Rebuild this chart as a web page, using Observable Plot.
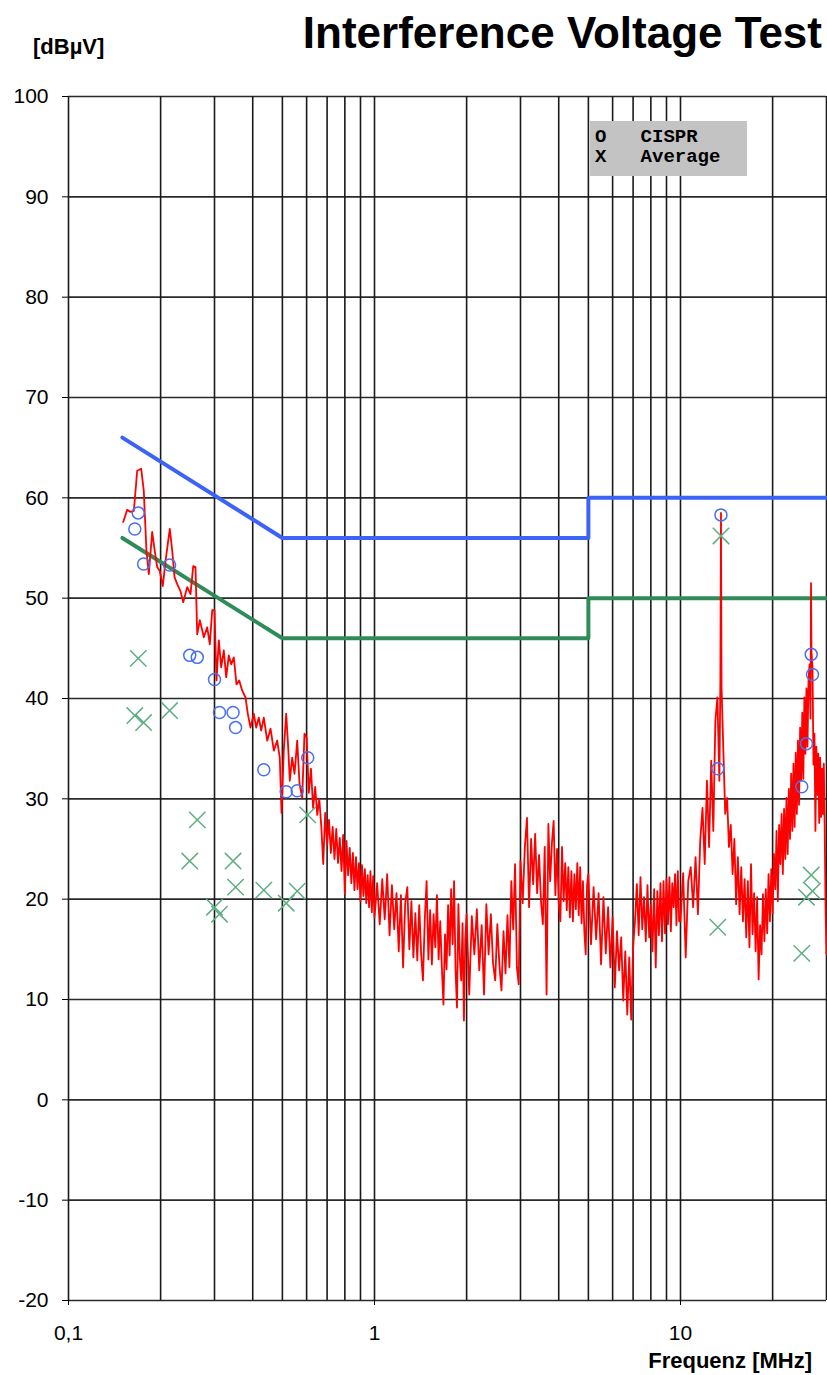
<!DOCTYPE html>
<html>
<head>
<meta charset="utf-8">
<script src="https://cdn.jsdelivr.net/npm/d3@7"></script>
<script src="https://cdn.jsdelivr.net/npm/@observablehq/plot@0.6"></script>
<style>
  body { margin: 0; background: #fff; }
  #wrap { position: relative; width: 827px; height: 1375px; background: #fff; font-family: "Liberation Sans", Arial, sans-serif; }
  #chart { position: absolute; left: 0; top: 0; }
  .title { position: absolute; right: 5px; top: 8px; font-size: 44px; font-weight: bold; color: #000; white-space: nowrap; }
  .ylab { position: absolute; left: 33px; top: 34px; font-size: 22px; font-weight: bold; white-space: nowrap; }
  .xlab { position: absolute; right: 15px; top: 1348px; font-size: 22px; font-weight: bold; white-space: nowrap; }
  .legend { position: absolute; left: 590px; top: 121px; width: 157px; height: 55px; background: #c3c3c3;
            font-family: "Liberation Mono", "DejaVu Sans Mono", monospace; font-weight: bold; font-size: 19px;
            line-height: 20px; padding: 6px 0 0 5px; box-sizing: border-box; white-space: pre; color: #000; }
</style>
</head>
<body>
<div id="wrap">
  <div id="chart"></div>
  <div class="title">Interference Voltage Test</div>
  <div class="ylab">[dBµV]</div>
  <div class="xlab">Frequenz [MHz]</div>
  <div class="legend" id="legend"></div>
</div>
<script>
// ---- axis ticks ----
const xTickValues = [0.1, 1, 10];
const xTickLabels = ["0,1", "1", "10"];
const xGrid = [0.1, 0.2, 0.3, 0.4, 0.5, 0.6, 0.7, 0.8, 0.9, 1, 2, 3, 4, 5, 6, 7, 8, 9, 10, 20, 30];
const yTicks = [-20, -10, 0, 10, 20, 30, 40, 50, 60, 70, 80, 90, 100];

// ---- limit lines (CISPR quasi-peak & average) ----
const limitFreq = [0.15, 0.5, 5, 5, 30];
const qpLimit = [66, 56, 56, 60, 60];
const avLimit = [56, 46, 46, 50, 50];

// ---- measured points ----
const pointFreq = [0.1647, 0.169, 0.176, 0.214, 0.249, 0.2635, 0.300, 0.3115, 0.345, 0.3516, 0.4347, 0.5146, 0.559, 0.605, 13.24, 13.56, 24.9, 25.8, 26.74, 27.0];
const cisprLevel = [56.9, 58.5, 53.4, 53.3, 44.3, 44.1, 41.9, 38.6, 38.6, 37.1, 32.9, 30.7, 30.8, 34.1, 33.0, 58.3, 31.2, 35.5, 44.4, 42.4];
const averageLevel = [38.3, 44.0, 37.6, 38.8, 23.8, 27.9, 19.2, 18.5, 23.8, 21.2, 20.9, 19.6, 20.8, 28.4, 17.2, 56.2, 14.6, 20.2, 22.4, 20.8];

// ---- spectrum trace, 0.15 - 0.6 MHz ----
const traceLowFreq = [
0.1509,0.1555,0.1594,0.1635,0.1677,0.1728,0.1762,0.1798,0.1830,0.1877,0.1914,0.1949,0.1988,0.2033,0.2075,0.2143,0.2183,0.2221,0.2266,0.2323,
0.2371,0.2443,0.2505,0.2556,0.2600,0.2634,0.2686,0.2735,0.2768,0.2840,0.2896,0.2949,0.3000,0.3046,0.3099,0.3155,0.3217,0.3276,0.3341,0.3402,
0.3469,0.3540,0.3613,0.3695,0.3788,0.3854,0.3933,0.4032,0.4106,0.4187,0.4263,0.4347,0.4461,0.4573,0.4688,0.4808,0.4903,0.4967,0.5053,0.5145,
0.5224,0.5287,0.5383,0.5478,0.5590,0.5688,0.5804,0.5905
];
const traceLowLevel = [
57.6,58.8,58.6,58.7,62.7,62.9,60.7,54.7,52.4,56.6,54.7,53.1,52.7,51.2,53.7,56.9,54.7,52.1,51.4,50.7,
49.6,51.1,50.4,53.2,53.1,46.4,47.8,46.8,46.1,47.1,45.4,48.8,48.8,41.8,45.8,43.1,44.8,42.1,44.3,43.4,
44.1,41.4,41.8,40.8,40.1,38.5,37.1,38.5,37.1,38.1,36.8,38.1,35.8,37.0,34.8,35.8,34.1,28.6,34.8,38.5,
35.1,31.8,34.1,32.5,35.8,31.5,30.1,36.5
];

// ---- spectrum trace, 0.6 - 30 MHz ----
const traceHighFreq = [
0.60,0.61,0.62,0.63,0.64,0.65,0.66,0.67,0.68,0.69,0.70,0.71,0.72,0.73,0.74,0.75,0.76,0.77,0.78,0.79,
0.80,0.81,0.82,0.83,0.84,0.85,0.86,0.87,0.88,0.89,0.90,0.91,0.92,0.93,0.94,0.95,0.96,0.97,0.98,0.99,
1.00,1.02,1.04,1.06,1.08,1.10,1.12,1.14,1.16,1.18,1.20,1.22,1.24,1.26,1.28,1.30,1.32,1.34,1.36,1.38,
1.40,1.42,1.44,1.46,1.48,1.50,1.52,1.54,1.56,1.58,1.60,1.62,1.64,1.66,1.68,1.70,1.72,1.74,1.76,1.78,
1.80,1.82,1.84,1.86,1.88,1.90,1.92,1.94,1.96,1.98,
2.00,2.04,2.08,2.12,2.16,2.20,2.24,2.28,2.32,2.36,2.40,2.44,2.48,2.52,2.56,2.60,2.64,2.68,2.72,2.76,
2.80,2.84,2.88,2.92,2.96,
3.00,3.05,3.10,3.15,3.20,3.25,3.30,3.35,3.40,3.45,3.50,3.55,3.60,3.65,3.70,3.75,3.80,3.85,3.90,3.95,
4.00,4.05,4.10,4.15,4.20,4.25,4.30,4.35,4.40,4.45,4.50,4.55,4.60,4.65,4.70,4.75,4.80,4.85,4.90,4.95,
5.0,5.1,5.2,5.3,5.4,5.5,5.6,5.7,5.8,5.9,6.0,6.1,6.2,6.3,6.4,6.5,6.6,6.7,6.8,6.9,
7.0,7.1,7.2,7.3,7.4,7.5,7.6,7.7,7.8,7.9,8.0,8.1,8.2,8.3,8.4,8.5,8.6,8.7,8.8,8.9,
9.0,9.1,9.2,9.3,9.4,9.5,9.6,9.7,9.8,9.9,
10.0,10.2,10.4,10.6,10.8,11.0,11.2,11.4,11.6,11.8,12.0,12.2,12.4,12.6,12.8,13.0,13.2,13.4,13.50,13.56,
13.62,13.8,14.0,14.2,14.4,14.6,14.8,15.0,15.2,15.4,15.6,15.8,16.0,16.2,16.4,16.6,16.8,17.0,17.2,17.4,
17.6,17.8,18.0,18.2,18.4,18.6,18.8,19.0,19.2,19.4,19.6,19.8,20.0,20.2,20.4,20.6,20.8,21.0,21.2,21.4,
21.6,21.8,22.0,22.2,22.4,22.6,22.8,23.0,23.2,23.4,23.6,23.8,24.0,24.2,24.4,24.6,24.8,25.0,25.2,25.4,
25.6,25.8,26.0,26.2,26.4,26.6,26.7,26.8,27.0,27.2,27.4,27.6,27.8,28.0,28.2,28.4,28.6,28.8,29.0,29.2,
29.4,29.6,29.8,30.0
];
const traceHighLevel = [
36.1,30.6,33.0,29.1,31.2,28.4,30.0,27.3,23.5,28.6,25.4,27.9,24.6,27.2,24.0,27.0,23.6,26.1,22.8,26.4,
20.5,25.8,22.4,25.1,21.6,24.6,20.9,24.2,21.0,23.6,19.8,23.4,20.3,23.0,19.6,22.4,19.2,22.8,18.7,22.3,
18.2,21.6,17.5,22.0,18.0,22.5,16.4,21.4,17.0,20.6,14.8,20.4,13.2,19.6,21.2,15.0,19.8,14.2,18.6,13.9,
19.4,14.6,11.9,18.0,21.8,14.0,18.9,13.5,18.5,15.2,20.4,14.0,17.8,13.2,9.5,16.5,13.0,19.4,14.4,21.0,
15.5,21.8,13.0,9.2,19.5,14.2,11.9,17.6,7.9,16.0,
18.5,10.5,18.3,14.5,19.0,12.9,17.4,10.5,19.5,14.5,18.5,13.6,11.9,17.5,13.4,10.9,16.8,12.6,18.4,13.2,
21.8,17.0,23.5,13.2,11.5,
23.8,19.6,25.2,28.1,19.2,26.0,21.5,26.5,20.6,24.4,19.8,17.5,25.2,10.5,27.5,21.8,25.6,27.8,20.4,25.0,
19.6,17.8,25.2,19.8,23.6,18.9,23.2,18.2,22.8,17.8,22.5,19.0,23.6,18.4,23.2,17.6,21.8,16.8,14.5,21.4,
22.5,15.5,21.2,16.0,20.6,13.5,20.2,14.6,19.2,13.2,18.2,11.2,16.8,12.9,16.2,9.9,14.8,8.5,14.2,8.0,
15.2,17.8,21.5,16.4,22.2,17.0,20.2,15.8,21.4,16.2,19.5,14.8,21.0,13.2,20.8,16.4,21.6,15.8,21.8,16.6,
22.0,17.5,22.2,16.8,21.6,19.2,22.5,17.4,22.8,17.8,
17.8,22.6,14.2,21.8,23.2,19.2,24.2,18.5,25.8,29.1,23.5,31.8,25.2,33.8,26.8,37.8,40.1,31.8,42.0,58.5,
41.1,35.0,28.5,30.1,25.2,27.4,22.5,26.0,19.5,24.2,18.5,23.2,17.8,22.0,16.2,21.8,15.2,23.5,16.5,20.6,
14.8,20.2,12.0,17.4,14.5,20.5,15.8,21.0,16.6,22.5,17.8,23.0,18.6,24.5,21.0,26.8,19.8,27.4,23.5,28.5,
22.5,29.0,24.0,30.1,24.5,31.0,26.0,32.5,26.8,33.5,27.2,34.6,28.5,35.8,29.4,37.1,31.8,38.6,32.0,40.1,
34.5,41.0,35.2,41.8,43.4,38.0,51.5,44.6,43.1,33.4,36.5,26.8,35.2,30.4,34.5,27.6,34.1,28.2,33.0,28.5,
33.5,27.0,18.5,14.5
];

// ---- legend ----
const legendSymbols = ["O", "X"];
const legendNames = ["CISPR", "Average"];
document.getElementById("legend").textContent =
  legendSymbols.map((s, i) => s + "   " + legendNames[i]).join("\n");

const trace = traceLowFreq.map((f, i) => ({f, v: traceLowLevel[i]}))
  .concat(traceHighFreq.map((f, i) => ({f, v: traceHighLevel[i]})));
const qp = limitFreq.map((f, i) => ({f, v: qpLimit[i]}));
const av = limitFreq.map((f, i) => ({f, v: avLimit[i]}));
const pts = pointFreq.map((f, i) => ({f, c: cisprLevel[i], a: averageLevel[i]}));
const xLabelMap = new Map(xTickValues.map((v, i) => [v, xTickLabels[i]]));

const chart = Plot.plot({
  width: 827,
  height: 1375,
  marginTop: 96,
  marginBottom: 75,
  marginLeft: 68,
  marginRight: 1,
  style: { fontFamily: "'Liberation Sans', Arial, sans-serif", fontSize: "21px", color: "#000", background: "transparent" },
  x: { type: "log", domain: [0.1, 30] },
  y: { domain: [-20, 100] },
  marks: [
    Plot.ruleY(yTicks, { stroke: "#2a2a2a", strokeWidth: 1.6 }),
    Plot.ruleX(xGrid, { stroke: "#1a1a1a", strokeWidth: 1.6 }),
    Plot.axisY(yTicks, { tickSize: 6, tickPadding: 14, label: null, stroke: "#000", tickFormat: d => String(d) }),
    Plot.axisX(xTickValues, { tickSize: 5, tickPadding: 20, label: null, tickFormat: d => xLabelMap.get(d), stroke: "#000" }),
    Plot.line(qp, { x: "f", y: "v", stroke: "#3b63f7", strokeWidth: 4 }),
    Plot.line(av, { x: "f", y: "v", stroke: "#2f8c58", strokeWidth: 4 }),
    Plot.line(trace, { x: "f", y: "v", stroke: "#ff0000", strokeWidth: 1.8 }),
    Plot.dot(pts, { x: "f", y: "c", r: 6, stroke: "#4a6ff0", fill: "none", strokeWidth: 1.5 }),
    Plot.dot(pts, { x: "f", y: "a", r: 7.5, symbol: "times", stroke: "#5fae82", strokeWidth: 1.5 })
  ]
});
document.getElementById("chart").appendChild(chart);
</script>
</body>
</html>
